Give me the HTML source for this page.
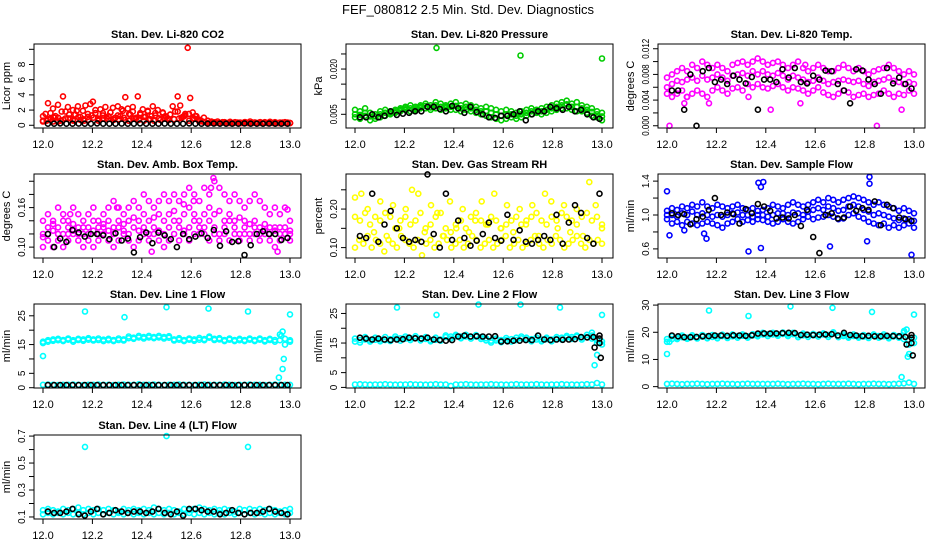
<!DOCTYPE html>
<html><head><meta charset="utf-8"><style>
body{margin:0;background:#fff}
svg{display:block;font-family:"Liberation Sans",sans-serif}
</style></head><body>
<svg id="c" width="936" height="540" viewBox="0 0 936 540">
<text x="468" y="14" font-size="13" text-anchor="middle">FEF_080812  2.5 Min. Std. Dev. Diagnostics</text>
</svg>
<script>
// ---- data ----
const xTicks=[12.0,12.2,12.4,12.6,12.8,13.0];
const xTickLabels=["12.0","12.2","12.4","12.6","12.8","13.0"];

const co2Red=[0.5,1.5,2.9,0.8,2.2,1.2,2.7,0.6,3.8,1.8,2.4,0.9,2.0,1.4,2.5,0.7,1.9,2.6,1.1,2.8,3.1,1.6,0.9,2.1,1.3,2.4,0.8,1.7,2.3,1.0,2.5,1.2,1.9,3.7,2.2,1.4,2.4,0.9,3.8,1.6,2.1,1.1,1.8,0.8,2.5,1.3,2.0,0.7,1.6,1.2,0.9,1.4,2.5,1.8,3.8,2.6,1.1,1.5,10.2,3.6,1.7,1.2,0.8,0.6,0.5,0.4,0.3,0.35,0.4,0.3,0.5,0.3,0.4,0.35,0.3,0.45,0.3,0.4,0.3,0.35,0.3,0.4,0.3,0.5,0.3,0.35,0.3,0.4,0.3,0.35,0.3,0.45,0.3,0.4,0.3,0.35,0.3,0.3,0.35,0.3];
const co2Mid=[1.2,0.6,1.6,1.0,0.5,1.8,0.9,1.4,0.7,1.9,1.1,0.6,1.5,1.3,2.0,0.8,1.6,1.0,1.7,0.9,1.3,2.1,0.7,1.5,1.8,1.0,1.4,0.6,1.9,1.2,1.6,0.9,1.7,1.1,1.4,0.8,1.8,1.0,1.3,1.5,0.9,1.2,0.7,1.0,0.6,0.5,0.4,0.3,0.35,0.3,0.4,0.3,0.35,0.3,0.4,0.3,0.35,0.3,0.4,0.3,0.3,0.35,0.3,0.3,0.35,0.3,0.3];
const co2Base=[0.6,0.8,0.5,1.0,0.7,0.9,0.6,1.1,0.8,0.7,1.0,0.6,0.9,1.2,0.7,0.8,1.0,0.6,0.9,0.7,1.1,0.8,0.6,0.9,1.0,0.7,0.8,0.9,1.2,0.6,0.9,0.5,0.4,0.3,0.35,0.3,0.4,0.3,0.35,0.3,0.4,0.3,0.35,0.3,0.4,0.3,0.35,0.3,0.4,0.3];
const co2Black=[0.2,0.2,0.25,0.2,0.2,0.22,0.2,0.2,0.25,0.2,0.2,0.2,0.22,0.2,0.2,0.25,0.2,0.2,0.2,0.22,0.2,0.2,0.2,0.25,0.2,0.2,0.2,0.22,0.2,0.2,0.2,0.2,0.25,0.2,0.2,0.2,0.22,0.2,0.2,0.2];
const co2OutX=[], co2OutY=[];

const presA=[0.0065,0.006,0.007,0.0055,0.005,0.006,0.0065,0.006,0.0065,0.007,0.0075,0.008,0.0075,0.008,0.0085,0.008,0.009,0.0085,0.008,0.0085,0.009,0.008,0.0085,0.008,0.0075,0.007,0.0075,0.007,0.0065,0.006,0.0065,0.006,0.0055,0.006,0.0065,0.007,0.0065,0.007,0.0075,0.008,0.0085,0.009,0.0095,0.0085,0.009,0.008,0.0075,0.007,0.006,0.0055];
const presB=[0.004,0.0035,0.0045,0.003,0.0035,0.004,0.0045,0.005,0.0055,0.006,0.0065,0.006,0.0065,0.007,0.007,0.0065,0.007,0.0065,0.007,0.0065,0.0065,0.006,0.0065,0.006,0.0055,0.005,0.0045,0.004,0.0035,0.003,0.0035,0.004,0.0035,0.004,0.0045,0.005,0.0055,0.005,0.0055,0.006,0.0065,0.007,0.007,0.0065,0.006,0.006,0.0055,0.0045,0.004,0.003];
const presC=[0.005,0.0048,0.0055,0.0043,0.0043,0.005,0.0055,0.0055,0.006,0.0065,0.007,0.007,0.007,0.0075,0.0078,0.0073,0.008,0.0075,0.0075,0.0075,0.0078,0.007,0.0075,0.007,0.0065,0.006,0.006,0.0055,0.005,0.0045,0.005,0.005,0.0045,0.005,0.0055,0.006,0.006,0.006,0.0065,0.007,0.0075,0.008,0.0083,0.0075,0.0075,0.007,0.0065,0.0058,0.005,0.0043];
const presBlack=[0.004,0.004,0.005,0.004,0.0045,0.006,0.0048,0.0052,0.0055,0.006,0.006,0.0075,0.0075,0.0068,0.006,0.0078,0.007,0.0055,0.0075,0.0058,0.005,0.004,0.0038,0.0045,0.0045,0.005,0.006,0.003,0.005,0.006,0.006,0.0075,0.007,0.0065,0.0075,0.006,0.0065,0.005,0.004,0.0035];
const presOutX=[12.33,12.67,13.0], presOutY=[0.027,0.0245,0.0235];

const tempA=[0.0075,0.008,0.0085,0.009,0.0085,0.0095,0.009,0.01,0.0095,0.009,0.0095,0.009,0.0085,0.0095,0.0098,0.01,0.0095,0.01,0.0105,0.01,0.0095,0.0098,0.01,0.0095,0.009,0.0095,0.01,0.009,0.0085,0.009,0.0095,0.009,0.0085,0.0085,0.009,0.0095,0.009,0.0085,0.009,0.0085,0.008,0.0085,0.0088,0.009,0.0095,0.009,0.0085,0.008,0.0085,0.008];
const tempB=[0.005,0.0045,0.005,0.0055,0.0045,0.005,0.0055,0.005,0.0045,0.0055,0.006,0.0055,0.005,0.0058,0.006,0.0055,0.0065,0.006,0.0065,0.006,0.0058,0.0062,0.0065,0.006,0.0055,0.006,0.0058,0.0055,0.005,0.0055,0.006,0.0052,0.0048,0.0045,0.005,0.0055,0.0052,0.0045,0.0048,0.005,0.0045,0.0048,0.005,0.0055,0.005,0.0045,0.005,0.0048,0.0055,0.005];
const tempC=[0.006,0.0065,0.007,0.0068,0.0072,0.0075,0.007,0.0078,0.0072,0.0075,0.008,0.0075,0.007,0.0078,0.008,0.0082,0.0078,0.0085,0.008,0.0085,0.008,0.0078,0.0082,0.0078,0.0072,0.0078,0.0075,0.0072,0.0068,0.007,0.0075,0.007,0.0065,0.0068,0.007,0.0072,0.007,0.0068,0.007,0.0065,0.0062,0.0068,0.007,0.0072,0.0075,0.007,0.0068,0.0065,0.0068,0.0065];
const tempBlack=[0.0055,0.0055,0.0025,0.008,0.0,0.0085,0.009,0.0068,0.0072,0.0065,0.0078,0.0072,0.0066,0.0076,0.0025,0.0072,0.0072,0.0068,0.0088,0.0075,0.009,0.0068,0.0066,0.0078,0.0072,0.0086,0.0085,0.0065,0.0055,0.0035,0.0088,0.0086,0.0072,0.0065,0.005,0.009,0.0066,0.0075,0.0065,0.0058];
const tempOutX=[12.01,12.07,12.17,12.42,12.54,12.56,12.85,12.95,12.08,12.33], tempOutY=[0.0,0.0035,0.0035,0.0025,0.0035,0.0095,0.0,0.0025,0.0045,0.0045];

const boxA=[0.14,0.15,0.14,0.16,0.15,0.14,0.16,0.15,0.14,0.15,0.16,0.14,0.15,0.16,0.17,0.16,0.15,0.16,0.17,0.16,0.18,0.17,0.16,0.17,0.18,0.17,0.18,0.17,0.18,0.19,0.18,0.17,0.19,0.18,0.2,0.19,0.18,0.17,0.18,0.17,0.16,0.17,0.18,0.17,0.16,0.15,0.16,0.15,0.16,0.14];
const boxB=[0.10,0.11,0.10,0.11,0.10,0.11,0.12,0.11,0.10,0.11,0.10,0.11,0.12,0.11,0.10,0.11,0.12,0.11,0.10,0.11,0.12,0.11,0.12,0.11,0.10,0.11,0.12,0.11,0.12,0.11,0.12,0.13,0.12,0.11,0.12,0.11,0.12,0.11,0.12,0.11,0.12,0.11,0.12,0.11,0.12,0.11,0.10,0.11,0.12,0.11];
const boxC=[0.12,0.13,0.125,0.13,0.12,0.13,0.125,0.13,0.12,0.13,0.14,0.13,0.135,0.14,0.13,0.14,0.135,0.14,0.145,0.14,0.15,0.14,0.145,0.15,0.14,0.15,0.155,0.14,0.15,0.16,0.15,0.14,0.15,0.16,0.15,0.155,0.14,0.15,0.14,0.145,0.14,0.135,0.14,0.13,0.135,0.13,0.125,0.13,0.12,0.125];
const boxD=[0.115,0.12,0.135,0.12,0.14,0.12,0.135,0.12,0.13,0.12,0.125,0.12,0.13,0.125,0.12,0.13,0.125,0.12,0.13,0.125,0.13,0.12,0.13,0.125,0.12,0.13,0.14,0.13,0.125,0.13,0.14,0.12,0.13,0.14,0.13,0.12,0.13,0.14,0.13,0.12,0.13,0.12,0.13,0.12,0.125,0.12,0.13,0.12,0.13,0.12];
const boxBlack=[0.12,0.10,0.113,0.108,0.126,0.122,0.116,0.12,0.12,0.118,0.112,0.121,0.11,0.113,0.092,0.115,0.122,0.106,0.122,0.118,0.112,0.10,0.12,0.112,0.116,0.121,0.114,0.126,0.102,0.124,0.108,0.109,0.088,0.103,0.12,0.124,0.12,0.12,0.111,0.114];
const boxOutX=[12.69,12.68,12.61,12.57,12.30,12.11,12.99,12.44,12.95], boxOutY=[0.205,0.19,0.17,0.165,0.16,0.15,0.157,0.093,0.093];

const rhA=[0.10,0.12,0.11,0.13,0.10,0.12,0.11,0.09,0.12,0.11,0.10,0.13,0.12,0.11,0.10,0.12,0.08,0.11,0.12,0.10,0.11,0.13,0.12,0.10,0.11,0.12,0.10,0.11,0.13,0.12,0.10,0.11,0.12,0.10,0.11,0.12,0.13,0.10,0.11,0.12,0.10,0.11,0.12,0.13,0.11,0.10,0.12,0.11,0.13,0.12,0.10,0.11,0.12,0.13,0.11,0.10,0.12,0.11,0.12,0.11];
const rhB=[0.18,0.17,0.19,0.16,0.18,0.17,0.19,0.18,0.15,0.17,0.18,0.16,0.17,0.19,0.15,0.16,0.18,0.19,0.15,0.14,0.16,0.17,0.15,0.18,0.19,0.17,0.16,0.18,0.17,0.15,0.16,0.17,0.18,0.16,0.17,0.18,0.19,0.17,0.16,0.18,0.17,0.19,0.18,0.17,0.16,0.18,0.19,0.17,0.18,0.16];
const rhC=[0.23,0.24,0.20,0.14,0.22,0.13,0.21,0.15,0.20,0.25,0.24,0.14,0.21,0.19,0.13,0.22,0.15,0.20,0.14,0.17,0.22,0.16,0.24,0.15,0.21,0.14,0.20,0.16,0.21,0.13,0.24,0.22,0.15,0.21,0.14,0.20,0.13,0.27,0.21,0.15];
const rhBlack=[0.13,0.125,0.24,0.115,0.16,0.195,0.15,0.125,0.115,0.12,0.115,0.29,0.135,0.10,0.24,0.12,0.17,0.125,0.105,0.118,0.135,0.165,0.125,0.118,0.185,0.12,0.145,0.115,0.11,0.12,0.13,0.12,0.185,0.11,0.165,0.21,0.19,0.125,0.11,0.24];
const rhOutX=[], rhOutY=[];

const flA=[1.05,1.08,1.06,1.1,1.08,1.12,1.1,1.15,1.1,1.08,1.12,1.1,1.08,1.1,1.12,1.08,1.06,1.08,1.05,1.06,1.08,1.12,1.1,1.08,1.12,1.15,1.12,1.1,1.12,1.15,1.18,1.15,1.2,1.18,1.15,1.18,1.2,1.22,1.2,1.18,1.15,1.12,1.15,1.12,1.1,1.08,1.05,1.08,1.05,1.02];
const flB=[0.95,0.9,0.92,0.88,0.92,0.9,0.88,0.9,0.92,0.9,0.88,0.85,0.9,0.92,0.95,0.92,0.94,0.92,0.95,0.94,0.92,0.9,0.92,0.95,0.92,0.9,0.92,0.95,0.98,0.95,0.97,0.98,1.0,0.98,0.95,0.96,1.0,1.02,0.98,0.96,0.92,0.9,0.88,0.9,0.85,0.88,0.85,0.88,0.9,0.85];
const flC=[1.0,1.0,0.98,1.02,1.0,1.04,1.0,1.02,1.0,0.98,1.0,0.98,1.0,1.02,1.03,1.0,1.0,0.98,1.0,1.0,0.98,1.0,1.02,1.02,1.0,1.03,1.02,1.0,1.04,1.06,1.08,1.06,1.1,1.08,1.05,1.06,1.1,1.12,1.1,1.06,1.04,1.0,1.02,1.0,0.98,0.96,0.94,0.96,0.95,0.93];
const flBlack=[1.02,1.0,1.01,0.89,0.95,0.98,1.06,1.2,1.0,1.03,1.01,0.9,1.07,1.02,1.13,1.1,1.05,0.96,0.97,0.96,1.0,0.87,1.06,0.74,0.55,1.0,1.02,0.96,0.97,1.1,1.05,1.08,1.06,1.16,0.88,1.12,1.08,0.97,0.95,0.93];
const flOutX=[12.0,12.01,12.33,12.37,12.38,12.39,12.15,12.16,12.66,12.82,12.82,12.81,12.99,12.38,12.07], flOutY=[1.28,0.76,0.57,1.38,1.33,1.39,0.78,0.72,0.63,1.45,1.37,0.69,0.53,0.61,0.82];

const l1A=[16,16.5,16.3,16.5,16.6,16.7,16.5,16.6,16.8,16.7,16.8,16.6,16.7,16.5,16.6,16.6,16.8,17.2,17.4,17.5,17.6,17.5,17.6,17.5,17.6,17.4,16.8,16.7,16.6,16.7,16.8,16.7,16.9,17.4,17.0,16.8,16.6,16.7,16.6,16.5,16.6,16.7,16.6,16.7,16.5,16.6,16.6,16.5,17,16];
const l1B=[15.5,16.0,16.8,17.0,16.2,17.1,16.0,17.0,16.3,17.2,16.4,17.1,16.2,17.0,16.2,17.1,16.4,17.8,17.0,18.0,17.1,18.0,17.2,18.0,17.1,17.9,16.4,17.2,16.2,17.1,16.3,17.3,16.5,17.8,16.6,17.2,16.2,17.1,16.2,17.0,16.2,17.1,16.2,17.1,16.1,17.0,16.0,18.5,15.0,16.5];
const l1Low=[1.0,1.1,1.0,0.9,1.0,1.0,1.1,1.0,0.9,1.0,1.0,1.1,1.0,1.0,0.9,1.0,1.1,1.0,1.0,1.2,1.0,1.0,1.1,1.0,0.9,1.0,1.0,1.1,1.0,1.0,0.9,1.0,1.1,1.0,1.0,1.0,1.1,1.0,0.9,1.0,1.0,1.1,1.0,1.0,0.9,1.0,1.1,1.0,1.0,1.0];
const l1Black=[0.9,0.9,0.9,0.9,0.9,0.9,0.9,0.9,0.9,0.9,0.9,0.9,0.9,0.9,0.9,0.9,0.9,0.9,0.9,0.9,0.9,0.9,0.9,0.9,0.9,0.9,0.9,0.9,0.9,0.9,0.9,0.9,0.9,0.9,0.9,0.9,0.9,0.9,0.9,0.9];
const l1OutX=[12.0,12.17,12.33,12.5,12.67,12.83,13.0,12.97,12.975,12.97,12.955,12.965], l1OutY=[11,26.5,24.5,28,27.5,26.5,25.5,19.5,10,6.5,3.5,18];

const l2A=[15.5,16,16.2,16,16.1,16.2,16,16.3,16.5,16.6,16.5,16.6,16.7,16.5,16.4,16,16.1,16.2,17.0,17.2,17.3,17.2,17.2,17.1,17.2,17.0,15.9,15.8,15.9,16.0,16.0,16.3,16.0,17.2,16.2,16.3,16.2,16.2,16.3,16.2,16.4,16.8,16.9,17.0,17.1,16.8,17.0,16.5,15,15.5];
const l2B=[16.5,15.2,17.0,15.5,16.8,15.6,17.0,15.7,17.2,15.8,17.2,16.0,17.3,15.9,17.0,15.6,16.8,15.8,17.6,16.5,17.8,16.6,17.8,16.5,17.7,16.4,16.6,15.2,16.5,15.3,16.7,15.5,16.8,16.6,16.8,15.6,16.9,15.6,16.8,15.6,17.0,16.2,17.4,16.4,17.5,16.2,17.8,18.5,16.0,14.5];
const l2Low=[1.0,1.1,1.0,0.9,1.0,1.0,1.1,1.0,0.9,1.0,1.0,1.1,1.0,1.0,0.9,1.0,1.1,1.0,1.0,0.5,1.0,1.0,1.1,1.0,0.9,1.0,1.0,1.1,1.0,1.0,0.9,1.0,1.1,1.0,1.0,1.0,1.1,1.0,0.9,1.0,1.0,1.1,1.0,1.0,0.9,1.0,1.1,1.0,1.5,1.0];
const l2Black=[16.8,16.5,16.2,16.5,16.2,16.0,16.2,16.3,16.8,16.6,16.5,16.8,16.2,16.0,15.8,16.0,17.2,17.5,17.2,17.3,17.2,17.2,17.3,15.5,15.6,15.8,15.8,16.0,16.0,17.5,16.2,16.0,16.2,16.1,16.2,16.3,17.0,16.9,17.0,16.5];
const l2OutX=[12.17,12.33,12.5,12.67,12.83,13.0,12.97,12.98,12.96], l2OutY=[27,24.5,28,28,27,24.5,7.5,11,17.5];
const l2BlackOutX=[12.97,12.99,12.99,12.995], l2BlackOutY=[13.5,17.5,15,10];

const l3A=[16.5,17.5,18,18.2,18,18.3,18.2,18.4,18.5,18.3,18.5,18.6,18.4,18.5,18.6,18.7,18.5,18.8,19.0,19.2,19.3,19.2,19.3,19.4,19.2,19.3,18.8,18.9,19.0,18.9,19.0,19.2,19.0,19.5,18.8,18.6,18.5,18.6,18.5,18.4,18.5,18.7,18.6,18.5,18.3,18.5,18.6,17.5,15.5,16];
const l3B=[17.5,18.5,17.5,18.8,17.6,18.9,17.7,19.0,17.8,19.0,17.8,19.1,17.9,19.2,18.0,19.2,18.0,19.3,18.5,19.8,18.6,19.8,18.7,19.9,18.6,19.8,18.2,19.5,18.3,19.4,18.4,19.6,18.3,20.0,18.2,19.2,18.0,19.2,18.0,19.0,17.9,19.2,18.0,19.2,17.8,19.0,18.0,20.0,17.0,18.0];
const l3Low=[1.0,1.1,1.0,0.9,1.0,1.0,1.1,1.0,0.9,1.0,1.0,1.1,1.0,1.0,0.9,1.0,1.1,1.0,1.0,1.0,1.0,1.0,1.1,1.0,0.9,1.0,1.0,1.1,1.0,1.0,0.9,1.0,1.1,1.0,1.0,1.0,1.1,1.0,0.9,1.0,1.0,1.1,1.0,1.0,0.9,1.0,1.1,1.2,1.5,1.0];
const l3Black=[18.8,18.5,18.2,18.2,18.3,18.5,18.6,18.8,18.8,18.7,18.9,18.8,18.7,18.9,19.5,19.6,19.5,19.6,19.7,19.8,19.7,19.0,19.1,19.0,19.1,19.2,19.3,18.8,19.8,19.0,18.8,18.6,18.7,18.5,18.5,18.7,18.6,18.5,18.3,18.0];
const l3OutX=[12.0,12.01,12.17,12.33,12.5,12.67,12.83,13.0,12.96,12.97,12.975,12.98,12.95], l3OutY=[12,16.5,28,26,29.5,29,27.5,26.5,20.5,21,11,12,3.5];
const l3BlackOutX=[12.97,12.99,12.99,12.995], l3BlackOutY=[15.5,19,16,11.5];

const l4A=[0.15,0.16,0.15,0.14,0.16,0.15,0.16,0.17,0.15,0.16,0.15,0.16,0.15,0.16,0.15,0.14,0.16,0.15,0.16,0.15,0.16,0.15,0.17,0.16,0.15,0.16,0.15,0.14,0.16,0.15,0.16,0.17,0.16,0.15,0.16,0.15,0.16,0.15,0.14,0.16,0.15,0.16,0.15,0.16,0.15,0.16,0.15,0.14,0.15,0.16];
const l4B=[0.12,0.13,0.12,0.13,0.12,0.13,0.12,0.13,0.12,0.13,0.12,0.13,0.12,0.13,0.12,0.13,0.12,0.13,0.12,0.13,0.12,0.13,0.12,0.13,0.12,0.13,0.12,0.13,0.12,0.13,0.12,0.13,0.12,0.13,0.12,0.13,0.12,0.13,0.12,0.13,0.12,0.13,0.12,0.13,0.12,0.13,0.12,0.13,0.12,0.13];
const l4Black=[0.14,0.13,0.13,0.14,0.16,0.12,0.11,0.14,0.16,0.12,0.13,0.15,0.14,0.13,0.14,0.14,0.13,0.14,0.16,0.13,0.12,0.14,0.11,0.16,0.16,0.15,0.14,0.14,0.12,0.13,0.15,0.13,0.12,0.13,0.13,0.14,0.16,0.14,0.13,0.12];
const l4OutX=[12.17,12.5,12.83], l4OutY=[0.62,0.7,0.62];

const RED="#ff0000",GRN="#00cc00",MAG="#ff00ff",YEL="#ffff00",BLU="#0000ff",CYN="#00ffff",BLK="#000000";
const panels=[
 {name:"co2",title:"Stan. Dev. Li-820 CO2",ylab:"Licor ppm",row:0,col:0,ymin:-0.36,ymax:10.7,
  yt:[0,2,4,6,8,10],yl:["0","2","4","6","8",""],col1:RED,series:[co2Red,co2Mid,co2Base],ox:co2OutX,oy:co2OutY,black:[co2Black],bx:[],by:[]},
 {name:"pressure",title:"Stan. Dev. Li-820 Pressure",ylab:"kPa",row:0,col:1,ymin:0.00046,ymax:0.0283,
  yt:[0.005,0.010,0.015,0.020,0.025],yl:["0.005","","","0.020",""],col1:GRN,series:[presA,presB,presC],ox:presOutX,oy:presOutY,black:[presBlack],bx:[],by:[]},
 {name:"licor-temp",title:"Stan. Dev. Li-820 Temp.",ylab:"degrees C",row:0,col:2,ymin:-0.00035,ymax:0.01274,
  yt:[0,0.002,0.004,0.006,0.008,0.010,0.012],yl:["0.000","","0.004","","0.008","","0.012"],col1:MAG,series:[tempA,tempB,tempC],ox:tempOutX,oy:tempOutY,black:[tempBlack],bx:[],by:[]},
 {name:"box-temp",title:"Stan. Dev. Amb. Box Temp.",ylab:"degrees C",row:1,col:0,ymin:0.0835,ymax:0.211,
  yt:[0.10,0.12,0.14,0.16,0.18,0.20],yl:["0.10","","","0.16","",""],col1:MAG,series:[boxA,boxB,boxC,boxD],ox:boxOutX,oy:boxOutY,black:[boxBlack],bx:[],by:[]},
 {name:"gas-rh",title:"Stan. Dev. Gas Stream RH",ylab:"percent",row:1,col:1,ymin:0.073,ymax:0.291,
  yt:[0.10,0.15,0.20,0.25],yl:["0.10","","0.20",""],col1:YEL,series:[rhA,rhB,rhC],ox:rhOutX,oy:rhOutY,black:[rhBlack],bx:[],by:[]},
 {name:"sample-flow",title:"Stan. Dev. Sample Flow",ylab:"ml/min",row:1,col:2,ymin:0.4925,ymax:1.484,
  yt:[0.6,0.8,1.0,1.2,1.4],yl:["0.6","","1.0","","1.4"],col1:BLU,series:[flA,flB,flC],ox:flOutX,oy:flOutY,black:[flBlack],bx:[],by:[]},
 {name:"line1-flow",title:"Stan. Dev. Line 1 Flow",ylab:"ml/min",row:2,col:0,ymin:-0.1,ymax:29.1,
  yt:[0,5,10,15,20,25],yl:["0","5","","15","","25"],col1:CYN,series:[l1A,l1B,l1Low],ox:l1OutX,oy:l1OutY,black:[l1Black],bx:[],by:[]},
 {name:"line2-flow",title:"Stan. Dev. Line 2 Flow",ylab:"ml/min",row:2,col:1,ymin:-0.2,ymax:28.2,
  yt:[0,5,10,15,20,25],yl:["0","5","","15","","25"],col1:CYN,series:[l2A,l2B,l2Low],ox:l2OutX,oy:l2OutY,black:[l2Black],bx:l2BlackOutX,by:l2BlackOutY},
 {name:"line3-flow",title:"Stan. Dev. Line 3 Flow",ylab:"ml/min",row:2,col:2,ymin:-0.5,ymax:30.4,
  yt:[0,10,20,30],yl:["0","10","20","30"],col1:CYN,series:[l3A,l3B,l3Low],ox:l3OutX,oy:l3OutY,black:[l3Black],bx:l3BlackOutX,by:l3BlackOutY},
 {name:"line4-flow",title:"Stan. Dev. Line 4 (LT) Flow",ylab:"ml/min",row:3,col:0,ymin:0.085,ymax:0.708,
  yt:[0.1,0.2,0.3,0.4,0.5,0.6,0.7],yl:["0.1","","0.3","","0.5","","0.7"],col1:CYN,series:[l4A,l4B],ox:l4OutX,oy:l4OutY,black:[l4Black],bx:[],by:[]}
];

const NS="http://www.w3.org/2000/svg";
const svg=document.getElementById("c");
function mk(tag,attrs,parent){const e=document.createElementNS(NS,tag);for(const k in attrs)e.setAttribute(k,attrs[k]);(parent||svg).appendChild(e);return e;}
const rowTop=[44,174,304,435];
panels.forEach(p=>{
  const g=mk("g",{});
  
  
  const bx0=34+312*p.col, bx1=301+312*p.col, by0=rowTop[p.row], by1=by0+84;
  const xs=v=>43+312*p.col+(v-12)*247;
  const ys=v=>by1-(v-p.ymin)/(p.ymax-p.ymin)*84;
  const t=mk("text",{x:(bx0+bx1)/2,y:by0-6,"font-size":"11","font-weight":"bold","text-anchor":"middle"},g);
  t.textContent=p.title;
  
  
  const yl=mk("text",{transform:`translate(${bx0-24},${(by0+by1)/2}) rotate(-90)`,"font-size":"11","text-anchor":"middle"},g);
  yl.textContent=p.ylab;
  
  
  const marks=mk("g",{fill:"none","stroke-width":"1.6"},g);
  
  
  const dot=(x,y,c)=>{const cc=mk("circle",{cx:xs(x).toFixed(1),cy:ys(y).toFixed(1),r:"2.5",stroke:c},marks);
    
    };
  p.series.forEach(arr=>arr.forEach((v,i)=>dot(12+i/(arr.length-1),v,p.col1)));
  p.ox.forEach((x,i)=>dot(x,p.oy[i],p.col1));
  p.black.forEach(arr=>arr.forEach((v,i)=>dot(12.02+0.97*i/(arr.length-1),v,BLK)));
  p.bx.forEach((x,i)=>dot(x,p.by[i],BLK));
  const box=mk("rect",{x:bx0,y:by0,width:bx1-bx0,height:84,fill:"none",stroke:"#000","stroke-width":"1"},g);
  
  
  xTicks.forEach((v,i)=>{
    mk("line",{x1:xs(v),x2:xs(v),y1:by1,y2:by1+5,stroke:"#000"},g);
    const tl=mk("text",{x:xs(v),y:by1+20,"font-size":"11","text-anchor":"middle"},g);
    tl.textContent=xTickLabels[i];
    
    
  });
  p.yt.forEach((v,i)=>{
    mk("line",{x1:bx0-5,x2:bx0,y1:ys(v),y2:ys(v),stroke:"#000"},g);
    if(p.yl[i]){
      const attrs={transform:`translate(${bx0-9},${ys(v)}) rotate(-90)`,"font-size":"10","text-anchor":"middle"};
      if(p.yl[i].length>=5){attrs.textLength="20";attrs.lengthAdjust="spacingAndGlyphs";}
      const tl=mk("text",attrs,g);
      tl.textContent=p.yl[i];
      
      
    }
  });
});
</script>
</body></html>
